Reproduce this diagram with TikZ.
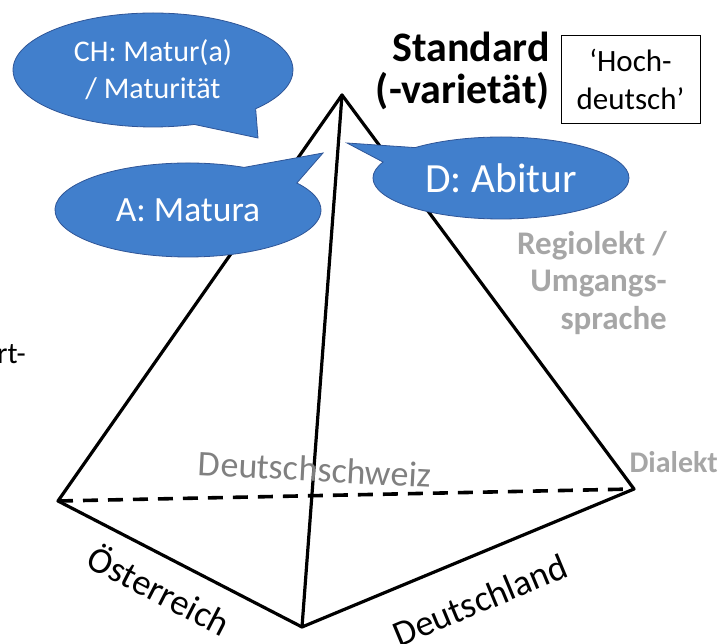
\documentclass[tikz,border=0pt]{standalone}
\usepackage{fontspec}
\setmainfont{Carlito}
\usetikzlibrary{shapes.callouts}
\definecolor{cfill}{RGB}{65,127,204}
\definecolor{cdraw}{RGB}{47,85,151}
\definecolor{lgray}{RGB}{166,166,166}
\definecolor{dgray}{RGB}{128,128,128}
\begin{document}
\begin{tikzpicture}[x=1pt,y=-1pt,
  edge/.style={line width=3.2pt, line cap=round, line join=round},
  hidden/.style={line width=3.6pt, dash pattern=on 15pt off 10pt},
  bubble/.style={ellipse callout, fill=cfill, draw=cdraw, line width=0.8pt,
    text=white, inner sep=0pt, align=center},
  gtext/.style={inner sep=0pt, text=lgray, font=\bfseries\fontsize{33}{37.5}\selectfont},
  btext/.style={inner sep=0pt, font=\fontsize{36.5}{40}\selectfont}
]
\useasboundingbox (0,0) rectangle (723,644);
% pyramid vertices
\coordinate (T) at (342,95);
\coordinate (L) at (58,501);
\coordinate (F) at (302,627);
\coordinate (R) at (634,489);
\draw[hidden] (L) -- (R);
\draw[edge] (T) -- (L) -- (F) -- (R) -- cycle;
\draw[edge] (T) -- (F);
% labels
\node[inner sep=0pt, text=dgray, rotate=-3, font=\fontsize{36}{40}\selectfont] (ds) at (315,469) {Deutschschweiz};
\node[btext, rotate=-27.3] (oe) at (160,589) {Österreich};
\node[btext, rotate=22.6] (de) at (480,600) {Deutschland};
\node[gtext, anchor=base east, font=\bfseries\fontsize{30}{36}\selectfont] (dia) at (718,472) {Dialekt};
\node[gtext, align=right, anchor=north east] (reg) at (667,231) {Regiolekt /\\Umgangs-\\sprache};
\node[inner sep=0pt, align=right, anchor=north east, font=\bfseries\fontsize{42}{42}\selectfont] (std) at (550,32) {Standard\\(-varietät)};
\node[draw, line width=0.8pt, minimum width=139pt, minimum height=88pt, inner sep=0pt,
  align=center, font=\fontsize{31}{38}\selectfont] (hd) at (630.5,79) {‘Hoch-\\deutsch’};
\node[inner sep=0pt, anchor=base east, font=\fontsize{30}{36}\selectfont] (rt) at (26,363) {rt-};
% callouts
\node[bubble, minimum width=280pt, minimum height=114pt, callout absolute pointer={(258,138)},
  callout pointer arc=30, font=\fontsize{30}{37}\selectfont] (ch) at (153,70) {CH: Matur(a)\\/ Maturität};
\node[bubble, minimum width=266pt, minimum height=94pt, callout absolute pointer={(323,153)},
  callout pointer arc=30, font=\fontsize{35.5}{40}\selectfont] (a) at (188,210) {A: Matura};
\node[bubble, minimum width=256pt, minimum height=82pt, callout absolute pointer={(347,143)},
  callout pointer arc=25, font=\fontsize{41.5}{45}\selectfont] (d) at (501,178) {D: Abitur};
\end{tikzpicture}
\end{document}
